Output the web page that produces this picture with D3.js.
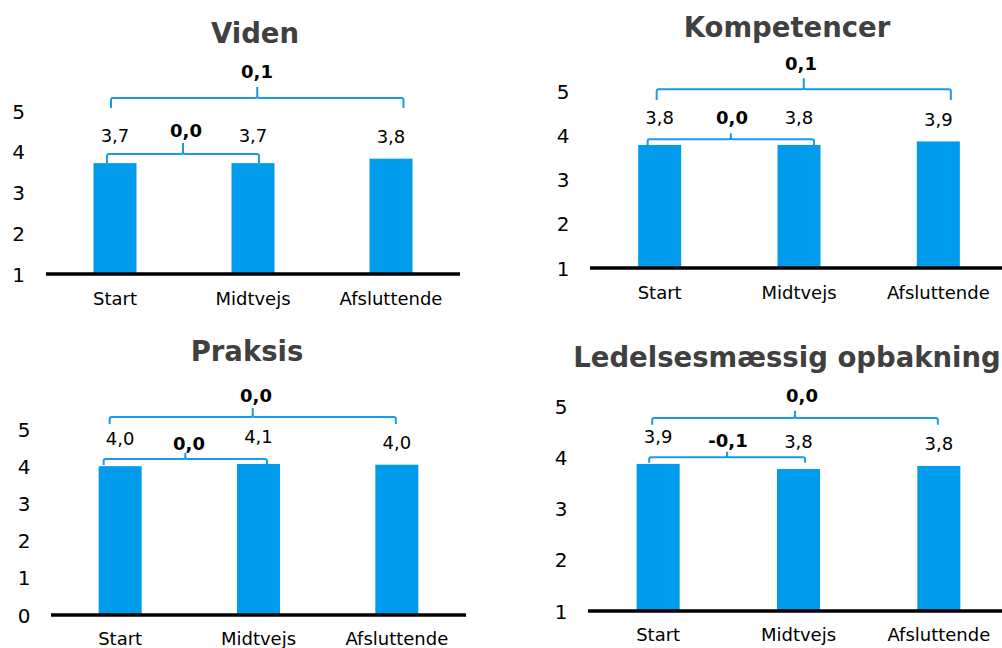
<!DOCTYPE html>
<html>
<head>
<meta charset="utf-8">
<script src="https://cdn.jsdelivr.net/npm/d3@7"></script>
<style>
  html, body { margin: 0; padding: 0; background: #fff; overflow: hidden; }
  svg { display: block; font-family: "DejaVu Sans", Verdana, sans-serif; }
</style>
</head>
<body>
<svg id="chart" width="1002" height="648"></svg>
<script>
// ---------- data ----------
const categories = ["Start", "Midtvejs", "Afsluttende"];
const titles = ["Viden", "Kompetencer", "Praksis", "Ledelsesmæssig opbakning"];

const videnValues       = [3.72, 3.72, 3.83];
const kompetencerValues = [3.78, 3.78, 3.86];
const praksisValues     = [4.00, 4.06, 4.04];
const ledelseValues     = [3.87, 3.77, 3.83];

// differences: [Midtvejs - Start, Afsluttende - Start]
const videnDiff       = [0.0, 0.1];
const kompetencerDiff = [0.0, 0.1];
const praksisDiff     = [0.0, 0.0];
const ledelseDiff     = [-0.1, 0.0];

const ticks1to5 = [1, 2, 3, 4, 5];
const ticks0to5 = [0, 1, 2, 3, 4, 5];

// ---------- layout (positions / styles only) ----------
const layout = [
  { x: [46, 460], y: [274, 111], dom: [1, 5], ticks: ticks1to5, tickX: 18.5, titleX: 255, titleY: 33, catY: 299,
    small: { y: 154, drop: 9, rise: 11, l: -8, r: 6, lx: 186, ly: 131 },
    big:   { y: 98, drop: 10, rise: 11, l: -4, r: 12.5, lx: 257, ly: 72 } },
  { x: [590, 1008], y: [268, 91], dom: [1, 5], ticks: ticks1to5, tickX: 563, titleX: 787, titleY: 27, catY: 293,
    small: { y: 139.3, drop: 6, rise: 6, l: -12, r: 15, lx: 732, ly: 118 },
    big:   { y: 89.3, drop: 10.7, rise: 11, l: -3, r: 12.5, lx: 801, ly: 64 } },
  { x: [51, 466], y: [615, 429], dom: [0, 5], ticks: ticks0to5, tickX: 24, titleX: 247, titleY: 351, catY: 639,
    small: { y: 459, drop: 6, rise: 6, l: -16.5, r: 8.5, lx: 189, ly: 444 },
    big:   { y: 417, drop: 7, rise: 9, l: -10.5, r: -1, lx: 256, ly: 396 } },
  { x: [588, 1009], y: [611, 406], dom: [1, 5], ticks: ticks1to5, tickX: 561, titleX: 787, titleY: 357, catY: 635,
    small: { y: 457.3, drop: 5.4, rise: 5.6, l: -9, r: 6.5, lx: 728, ly: 441 },
    big:   { y: 418, drop: 6.7, rise: 7.3, l: -6, r: -1, lx: 802, ly: 396 } }
];
const valueLabelOffsets = [27.5, 27.5, 22];

const panelsData = [
  { title: titles[0], values: videnValues, diff: videnDiff },
  { title: titles[1], values: kompetencerValues, diff: kompetencerDiff },
  { title: titles[2], values: praksisValues, diff: praksisDiff },
  { title: titles[3], values: ledelseValues, diff: ledelseDiff }
];

const BAR = "#009CEB";
const BRACKET = "#1A9BE8";
const TITLE = "#404040";
const fmt = v => d3.format(".1f")(v).replace(".", ",").replace("−", "-");

const svg = d3.select("#chart");

panelsData.forEach((pd, i) => {
  const L = layout[i];
  const g = svg.append("g");
  const step = (L.x[1] - L.x[0]) / categories.length;
  const pad = 1 - 43 / step;
  const x = d3.scaleBand().domain(categories).range(L.x).paddingInner(pad).paddingOuter(pad / 2);
  const y = d3.scaleLinear().domain(L.dom).range(L.y);
  const cx = c => x(c) + x.bandwidth() / 2;

  // title
  g.append("text")
    .attr("x", L.titleX).attr("y", L.titleY).attr("dy", "0.35em")
    .attr("text-anchor", "middle")
    .attr("font-size", 27.5).attr("font-weight", "bold").attr("fill", TITLE)
    .text(pd.title);

  // y axis labels
  const ya = g.append("g")
    .attr("transform", `translate(${L.tickX},0)`)
    .call(d3.axisLeft(y).tickValues(L.ticks).tickSize(0).tickPadding(0).tickFormat(d3.format("d")));
  ya.select(".domain").remove();
  ya.selectAll("text")
    .attr("text-anchor", "middle").attr("x", 0).attr("dy", "0.35em")
    .attr("font-size", 20).attr("fill", "#000")
    .style("font-family", "DejaVu Sans, Verdana, sans-serif");

  // bars
  g.selectAll("rect.bar").data(pd.values).join("rect")
    .attr("class", "bar")
    .attr("x", (d, j) => x(categories[j]))
    .attr("width", x.bandwidth())
    .attr("y", d => y(d))
    .attr("height", d => y(L.dom[0]) - y(d))
    .attr("fill", BAR);

  // baseline
  g.append("line")
    .attr("x1", L.x[0]).attr("x2", L.x[1])
    .attr("y1", y(L.dom[0])).attr("y2", y(L.dom[0]))
    .attr("stroke", "#000").attr("stroke-width", 3.5);

  // category labels
  const xa = g.append("g")
    .attr("transform", `translate(0,${L.catY})`)
    .call(d3.axisBottom(x).tickSize(0).tickPadding(0));
  xa.select(".domain").remove();
  xa.selectAll("text")
    .attr("y", 0).attr("dy", "0.35em")
    .attr("font-size", 18).attr("fill", "#000")
    .style("font-family", "DejaVu Sans, Verdana, sans-serif");

  // value labels
  g.selectAll("text.val").data(pd.values).join("text")
    .attr("class", "val")
    .attr("x", (d, j) => cx(categories[j]))
    .attr("y", (d, j) => y(d) - valueLabelOffsets[j])
    .attr("dy", "0.35em")
    .attr("text-anchor", "middle")
    .attr("font-size", 18).attr("fill", "#000")
    .text(d => fmt(d));

  // brackets
  const brackets = [
    { spec: L.small, from: categories[0], to: categories[1], diff: pd.diff[0] },
    { spec: L.big, from: categories[0], to: categories[2], diff: pd.diff[1] }
  ];
  brackets.forEach(b => {
    const s = b.spec;
    const x1 = cx(b.from) + s.l, x2 = cx(b.to) + s.r;
    const xm = (x1 + x2) / 2;
    const p = d3.path();
    p.moveTo(x1, s.y + s.drop);
    p.lineTo(x1, s.y + 2);
    p.quadraticCurveTo(x1, s.y, x1 + 2, s.y);
    p.lineTo(xm - 2, s.y);
    p.quadraticCurveTo(xm, s.y, xm, s.y - 2);
    p.lineTo(xm, s.y - s.rise);
    p.moveTo(xm, s.y - 2);
    p.quadraticCurveTo(xm, s.y, xm + 2, s.y);
    p.lineTo(x2 - 2, s.y);
    p.quadraticCurveTo(x2, s.y, x2, s.y + 2);
    p.lineTo(x2, s.y + s.drop);
    g.append("path").attr("d", p.toString())
      .attr("fill", "none").attr("stroke", BRACKET).attr("stroke-width", 2);
    g.append("text")
      .attr("x", s.lx).attr("y", s.ly).attr("dy", "0.35em")
      .attr("text-anchor", "middle")
      .attr("font-size", 18).attr("font-weight", "bold").attr("fill", "#000")
      .text(fmt(b.diff));
  });
});
</script>
</body>
</html>
